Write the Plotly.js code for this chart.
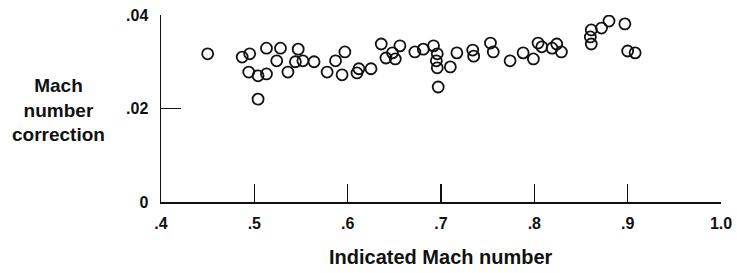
<!DOCTYPE html>
<html>
<head>
<meta charset="utf-8">
<script src="https://cdn.plot.ly/plotly-3.0.1.min.js"></script>
<style>html,body{margin:0;padding:0;background:#fff;}#chart{width:737px;height:273px;}</style>
</head>
<body>
<div id="chart"></div>
<script>
const machIndicated = [
  0.450, 0.487, 0.495, 0.513, 0.528, 0.547, 0.524, 0.494, 0.504, 0.513,
  0.536, 0.544, 0.552, 0.564, 0.504, 0.578, 0.587, 0.597, 0.594, 0.610,
  0.612, 0.625, 0.636, 0.641, 0.648, 0.651, 0.656, 0.672, 0.681, 0.692,
  0.696, 0.695, 0.696, 0.697, 0.710, 0.717, 0.734, 0.735, 0.753, 0.756,
  0.774, 0.788, 0.799, 0.804, 0.808, 0.819, 0.824, 0.829, 0.861, 0.860,
  0.861, 0.872, 0.880, 0.897, 0.900, 0.908
];
const machCorrection = [
  0.0317, 0.0310, 0.0317, 0.0329, 0.0329, 0.0327, 0.0302, 0.0278, 0.0270, 0.0274,
  0.0278, 0.0300, 0.0302, 0.0300, 0.0220, 0.0278, 0.0302, 0.0321, 0.0272, 0.0276,
  0.0285, 0.0285, 0.0338, 0.0308, 0.0319, 0.0306, 0.0334, 0.0321, 0.0327, 0.0334,
  0.0317, 0.0302, 0.0287, 0.0246, 0.0289, 0.0319, 0.0325, 0.0312, 0.0340, 0.0321,
  0.0302, 0.0319, 0.0306, 0.0340, 0.0332, 0.0329, 0.0338, 0.0321, 0.0368, 0.0353,
  0.0338, 0.0372, 0.0387, 0.0381, 0.0323, 0.0319
];
const xTickVals = [0.4, 0.5, 0.6, 0.7, 0.8, 0.9, 1.0];
const xTickText = ['.4', '.5', '.6', '.7', '.8', '.9', '1.0'];
const yTickVals = [0, 0.02, 0.04];
const yTickText = ['0', '.02', '.04'];

const FONT = 'Liberation Sans, Arial, Helvetica, sans-serif';
const INK = '#111';

const trace = {
  x: machIndicated,
  y: machCorrection,
  type: 'scatter',
  mode: 'markers',
  marker: {symbol: 'circle-open', size: 11, color: INK, line: {width: 1.8, color: INK}},
  hoverinfo: 'skip'
};

const layout = {
  width: 737, height: 273,
  margin: {l: 161, r: 16, t: 15, b: 71, pad: 0},
  paper_bgcolor: '#fff', plot_bgcolor: '#fff',
  showlegend: false,
  font: {family: FONT, color: INK, size: 16, weight: 'bold'},
  xaxis: {
    range: [0.4, 1.0], tickvals: xTickVals, ticktext: xTickText,
    ticks: 'inside', ticklen: 18, tickwidth: 1.5, tickcolor: INK,
    showline: true, linecolor: INK, linewidth: 1.5,
    showgrid: false, zeroline: false,
    tickfont: {family: FONT, size: 16, color: INK, weight: 'bold'},
    ticklabelstandoff: 6
  },
  yaxis: {
    range: [0, 0.04], tickvals: yTickVals, ticktext: yTickText,
    ticks: 'inside', ticklen: 20, tickwidth: 1.5, tickcolor: INK,
    showline: true, linecolor: INK, linewidth: 1.5,
    showgrid: false, zeroline: false,
    tickfont: {family: FONT, size: 16, color: INK, weight: 'bold'},
    ticklabelstandoff: 8
  },
  annotations: [
    {
      text: 'Mach<br>number<br>correction', xref: 'paper', yref: 'paper',
      x: -0.183, y: 0.49, xanchor: 'center', yanchor: 'middle', align: 'center',
      showarrow: false, font: {family: FONT, size: 19, color: INK, weight: 'bold'}
    },
    {
      text: 'Indicated Mach number', xref: 'paper', yref: 'paper',
      x: 0.5, y: -0.294, xanchor: 'center', yanchor: 'middle',
      showarrow: false, font: {family: FONT, size: 20, color: INK, weight: 'bold'}
    }
  ]
};

Plotly.newPlot('chart', [trace], layout, {displayModeBar: false, staticPlot: true});
</script>
</body>
</html>
